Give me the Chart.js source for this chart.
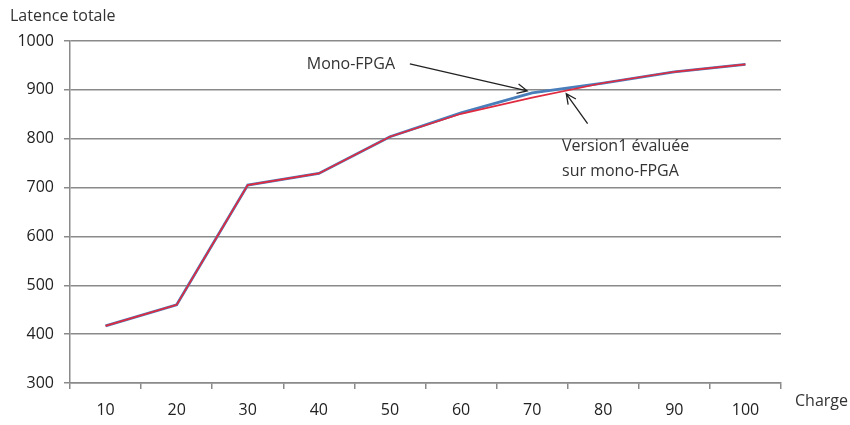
<!DOCTYPE html>
<html>
<head>
<meta charset="utf-8">
<script src="https://cdn.jsdelivr.net/npm/chart.js@4.4.1/dist/chart.umd.min.js"></script>
<style>
  html, body { margin: 0; padding: 0; background: #ffffff; }
  #wrap { width: 850px; height: 425px; }
</style>
</head>
<body>
<div id="wrap"><canvas id="myChart" width="850" height="425"></canvas></div>
<script>
// data
var charges = ['10', '20', '30', '40', '50', '60', '70', '80', '90', '100'];
var monoFpga = [417, 460, 705, 729, 804, 853, 894, 914, 937, 952];
var version1 = [417, 460, 705, 729, 804, 851, 884, 914, 937, 952];
var yTicks = [300, 400, 500, 600, 700, 800, 900, 1000];

var FONT = "'Open Sans', 'Liberation Sans', sans-serif";
var GRID = '#8a8a8a';

/////////////////////////////////////////////////////////////////
// titles and arrows, placed through the chart scales
function arrow(ctx, x1, y1, x2, y2) {
    var a = Math.atan2(y2 - y1, x2 - x1);
    var h = 11;
    ctx.beginPath();
    ctx.moveTo(x1, y1);
    ctx.lineTo(x2, y2);
    ctx.moveTo(x2 - h * Math.cos(a - 0.45), y2 - h * Math.sin(a - 0.45));
    ctx.lineTo(x2, y2);
    ctx.lineTo(x2 - h * Math.cos(a + 0.45), y2 - h * Math.sin(a + 0.45));
    ctx.stroke();
}

var notes = {
    id: 'notes',
    afterDraw: function (chart) {
        var ctx = chart.ctx;
        var x = chart.scales.x;
        var y = chart.scales.y;
        var area = chart.chartArea;
        ctx.save();
        ctx.fillStyle = '#333';
        ctx.font = '16px ' + FONT;
        ctx.textBaseline = 'middle';
        ctx.textAlign = 'left';
        ctx.fillText('Latence totale', 10, 16);
        ctx.fillText('Charge', area.right + 14, 401);

        ctx.fillText('Mono-FPGA', x.getPixelForValue(2.83), y.getPixelForValue(953));
        ctx.fillText('Version1 évaluée', x.getPixelForValue(6.42), y.getPixelForValue(784));
        ctx.fillText('sur mono-FPGA', x.getPixelForValue(6.42), y.getPixelForValue(733));

        ctx.strokeStyle = '#222';
        ctx.lineWidth = 1.3;
        arrow(ctx, x.getPixelForValue(4.28), y.getPixelForValue(953),
                   x.getPixelForValue(5.93), y.getPixelForValue(898));
        arrow(ctx, x.getPixelForValue(6.78), y.getPixelForValue(831),
                   x.getPixelForValue(6.48), y.getPixelForValue(892));
        ctx.restore();
    }
};

var data = {
    labels: charges,
    datasets: [{
        label: 'Mono-FPGA',
        data: monoFpga,
        borderColor: '#4a7ebb',
        borderWidth: 2.8,
        pointRadius: 0,
        tension: 0,
        order: 1
    }, {
        label: 'Version1 évaluée sur mono-FPGA',
        data: version1,
        borderColor: '#e02a40',
        borderWidth: 1.7,
        pointRadius: 0,
        tension: 0,
        order: 0
    }]
};

var config = {
    type: 'line',
    data: data,
    plugins: [notes],
    options: {
        responsive: false,
        animation: false,
        layout: { padding: { top: 41, right: 69, left: 0, bottom: 0 } },
        plugins: {
            legend: { display: false },
            tooltip: { enabled: false }
        },
        scales: {
            x: {
                offset: true,
                grid: {
                    offset: true,
                    drawOnChartArea: false,
                    drawTicks: true,
                    tickLength: 6,
                    color: GRID,
                    lineWidth: 1.5
                },
                border: { color: GRID, width: 1.5 },
                ticks: {
                    color: '#222',
                    font: { family: FONT, size: 16 },
                    padding: 12,
                    maxRotation: 0
                },
                afterFit: function (s) { s.height = 42; }
            },
            y: {
                min: 300,
                max: 1000,
                afterBuildTicks: function (s) {
                    s.ticks = yTicks.map(function (v) { return { value: v }; });
                },
                grid: {
                    color: GRID,
                    lineWidth: 1.5,
                    tickLength: 6
                },
                border: { color: GRID, width: 1.5 },
                ticks: {
                    color: '#222',
                    font: { family: FONT, size: 16 },
                    padding: 10,
                    callback: function (v) { return String(v); }
                },
                afterFit: function (s) { s.width = 70; }
            }
        }
    }
};

var myChart = new Chart(document.getElementById('myChart'), config);
</script>
</body>
</html>
